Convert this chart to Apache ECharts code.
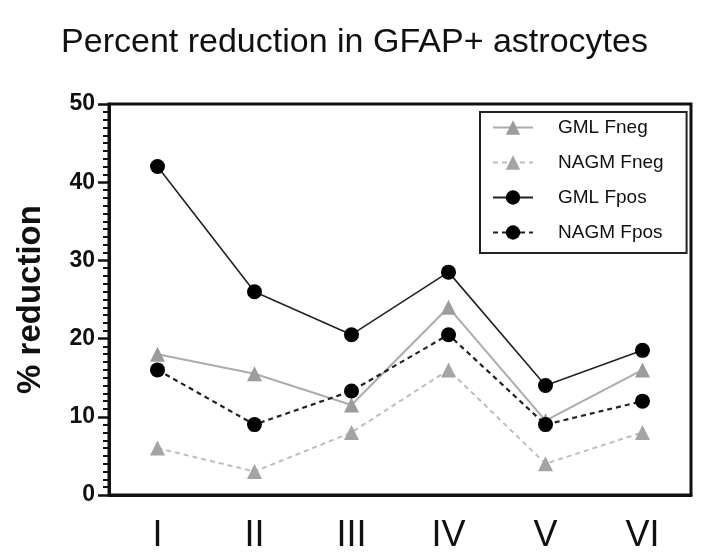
<!DOCTYPE html>
<html>
<head>
<meta charset="utf-8">
<style>html,body{margin:0;padding:0;background:#fff}#c{width:709px;height:552px}</style>
<script src="https://cdn.jsdelivr.net/npm/echarts@6/dist/echarts.min.js"></script>
</head>
<body>
<div id="c"></div>
<script>
var categories = ['I', 'II', 'III', 'IV', 'V', 'VI'];
var gmlFneg = [18, 15.5, 11.5, 24, 9.5, 16];
var nagmFneg = [6, 3, 8, 16, 4, 8];
var gmlFpos = [42, 26, 20.5, 28.5, 14, 18.5];
var nagmFpos = [16, 9, 13.3, 20.5, 9, 12];
var yTicks = [0, 10, 20, 30, 40, 50];

var chart = echarts.init(document.getElementById('c'), null, {renderer: 'canvas'});
var font = 'Liberation Sans, Arial, sans-serif';
chart.setOption({
  animation: false,
  backgroundColor: '#fff',
  title: {
    text: 'Percent reduction in GFAP+ astrocytes',
    left: 'center', top: 21,
    textStyle: {fontFamily: font, fontSize: 34, fontWeight: 'normal', color: '#111'}
  },
  grid: {left: 109, right: 18, top: 104, bottom: 57, show: true, borderColor: '#111', borderWidth: 3,
    outerBoundsMode: 'none', containLabel: false},
  legend: {
    orient: 'vertical', left: 480, top: 112,
    padding: [6, 23, 11, 12],
    itemGap: 16, itemWidth: 40, itemHeight: 18,
    borderColor: '#222', borderWidth: 2,
    textStyle: {fontFamily: font, fontSize: 19, color: '#111', padding: [0, 0, 0, 20]},
    data: ['GML Fneg', 'NAGM Fneg', 'GML Fpos', 'NAGM Fpos']
  },
  xAxis: {
    type: 'category', data: categories, boundaryGap: true,
    axisLine: {lineStyle: {color: '#111', width: 3}},
    axisTick: {alignWithLabel: true, length: 8, lineStyle: {color: '#111', width: 3}},
    axisLabel: {fontFamily: font, fontSize: 36, color: '#111', margin: 23}
  },
  yAxis: {
    type: 'value', min: 0, max: 50, interval: 10,
    name: '% reduction', nameLocation: 'middle', nameGap: 62,
    nameTextStyle: {fontFamily: font, fontSize: 33, fontWeight: 'bold', color: '#111'},
    axisLine: {show: true, lineStyle: {color: '#111', width: 3}},
    axisTick: {show: true, length: 11, lineStyle: {color: '#111', width: 2.5}},
    minorTick: {show: true, splitNumber: 10, length: 6, lineStyle: {color: '#111', width: 2}},
    splitLine: {show: false},
    axisLabel: {fontFamily: font, fontSize: 23, fontWeight: 'bold', color: '#111', margin: 14,
      formatter: function (v) { return yTicks.indexOf(v) >= 0 ? String(v) : ''; }}
  },
  series: [
    {name: 'GML Fneg', type: 'line', data: gmlFneg, symbol: 'triangle', symbolSize: 15,
      itemStyle: {color: '#9c9c9c'}, lineStyle: {color: '#acacac', width: 2, type: 'solid'}},
    {name: 'NAGM Fneg', type: 'line', data: nagmFneg, symbol: 'triangle', symbolSize: 15,
      itemStyle: {color: '#a4a4a4'}, lineStyle: {color: '#bdbdbd', width: 2, type: [5, 4]}},
    {name: 'GML Fpos', type: 'line', data: gmlFpos, symbol: 'circle', symbolSize: 15,
      itemStyle: {color: '#000'}, lineStyle: {color: '#222', width: 1.6, type: 'solid'}},
    {name: 'NAGM Fpos', type: 'line', data: nagmFpos, symbol: 'circle', symbolSize: 15,
      itemStyle: {color: '#000'}, lineStyle: {color: '#222', width: 2.2, type: [5, 4]}}
  ]
});
</script>
</body>
</html>
